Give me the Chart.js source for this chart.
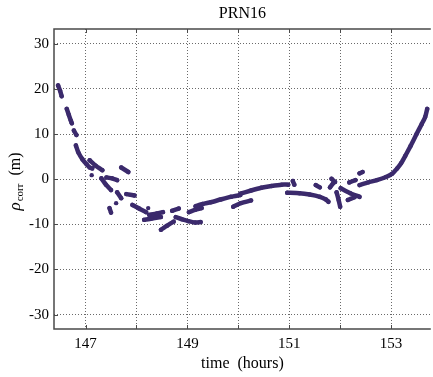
<!DOCTYPE html>
<html>
<head>
<meta charset="utf-8">
<script src="https://cdn.jsdelivr.net/npm/chart.js@4.4.0/dist/chart.umd.min.js"></script>
<style>
  html, body { margin: 0; padding: 0; background: #fff; }
  canvas { display: block; }
</style>
</head>
<body>
<canvas id="chart" width="433" height="377"></canvas>
<script>
// satellite passes, null marks a gap between tracked arcs
const timeHours = [
  146.46, 146.50, 146.53, null,
  146.63, 146.67, 146.71, 146.73, null,
  146.77, 146.82, null,
  146.81, 146.86, 146.94, 147.02, 147.08, 147.13, null,
  147.08, 147.20, 147.33, null,
  147.12, null,
  147.31, 147.40, 147.50, null,
  147.41, 147.52, 147.62, null,
  147.70, 147.84, null,
  147.62, 147.70, null,
  147.80, 147.96, null,
  147.60, null,
  147.47, 147.50, null,
  147.92, 148.05, 148.19, null,
  148.23, null,
  148.15, 148.30, 148.48, null,
  148.25, 148.40, 148.52, null,
  148.48, 148.60, 148.73, null,
  148.70, 148.83, null,
  148.77, 148.90, 149.02, 149.15, 149.26, null,
  149.03, 149.15, 149.28, null,
  149.16, 149.30, 149.46, 149.65, 149.85, 150.04, null,
  149.90, 150.05, 150.25, null,
  150.04, 150.25, 150.45, 150.65, 150.85, 150.98, null,
  150.96, 151.20, 151.40, 151.60, 151.72, 151.77, null,
  151.07, 151.10, null,
  151.52, 151.60, null,
  151.83, 151.90, null,
  151.80, 151.86, null,
  151.93, 151.97, 152.00, null,
  152.01, 152.20, 152.38, null,
  152.15, 152.28, null,
  152.38, 152.44, null,
  152.18, 152.30, null,
  152.38, 152.55, 152.72, 152.90, 153.02, 153.12, 153.20, 153.28, 153.38, 153.50, 153.60, 153.67, 153.71
];
const rhoCorr = [
  20.8, 19.6, 18.4, null,
  15.6, 14.3, 13.0, 12.4, null,
  10.8, 9.8, null,
  7.5, 5.9, 4.4, 3.3, 2.6, 2.4, null,
  4.2, 3.0, 2.0, null,
  0.9, null,
  0.2, -1.2, -2.4, null,
  0.4, 0.2, -0.2, null,
  2.6, 1.6, null,
  -2.9, -4.2, null,
  -3.3, -3.6, null,
  -5.3, null,
  -6.4, -7.4, null,
  -5.7, -6.5, -7.3, null,
  -6.4, null,
  -9.0, -8.7, -8.4, null,
  -7.9, -7.6, -7.3, null,
  -11.2, -10.3, -9.4, null,
  -7.0, -6.5, null,
  -8.4, -8.9, -9.3, -9.6, -9.5, null,
  -7.3, -6.8, -6.4, null,
  -6.0, -5.5, -5.1, -4.5, -3.9, -3.5, null,
  -6.1, -5.3, -4.7, null,
  -3.2, -2.5, -1.9, -1.5, -1.2, -1.2, null,
  -3.0, -3.1, -3.4, -3.9, -4.5, -5.0, null,
  -0.4, -1.2, null,
  -1.3, -1.8, null,
  0.1, -0.6, null,
  -1.8, -0.9, null,
  -2.9, -4.6, -6.1, null,
  -2.0, -3.1, -3.9, null,
  -4.6, -4.0, null,
  1.3, 1.6, null,
  -0.7, -0.2, null,
  -1.3, -0.7, -0.2, 0.5, 1.2, 2.4, 3.6, 5.2, 7.3, 10.0, 12.2, 13.8, 15.6
];
const xTicks = [147, 148, 149, 150, 151, 152, 153];
const xTickLabels = ['147', '', '149', '', '151', '', '153'];
const yTicks = [-30, -20, -10, 0, 10, 20, 30];

const serif = '"Liberation Serif", "DejaVu Serif", serif';
const markColor = '#3b2a6c';

const points = timeHours.map((t, i) => ({ x: t, y: rhoCorr[i] }));

const frame = {
  id: 'frame',
  afterDraw(chart) {
    const { ctx, chartArea: a, scales: { x, y } } = chart;
    ctx.save();
    ctx.strokeStyle = '#4a4a4a';
    ctx.lineWidth = 1.5;
    ctx.beginPath();
    ctx.moveTo(a.right, a.top);
    ctx.lineTo(a.left, a.top);
    ctx.lineTo(a.left, a.bottom);
    ctx.lineTo(a.right, a.bottom);
    ctx.stroke();

    ctx.lineWidth = 1;
    ctx.beginPath();
    xTicks.forEach(v => {
      const px = Math.round(x.getPixelForValue(v)) + 0.5;
      ctx.moveTo(px, a.bottom); ctx.lineTo(px, a.bottom - 4);
      ctx.moveTo(px, a.top); ctx.lineTo(px, a.top + 4);
    });
    yTicks.forEach(v => {
      const py = Math.round(y.getPixelForValue(v)) + 0.5;
      ctx.moveTo(a.left, py); ctx.lineTo(a.left + 4, py);
    });
    ctx.stroke();

    ctx.fillStyle = '#000';
    ctx.textAlign = 'center';
    ctx.textBaseline = 'middle';
    ctx.font = '16px ' + serif;
    ctx.fillText('PRN16', (a.left + a.right) / 2, 14);
    ctx.fillText('time  (hours)', (a.left + a.right) / 2, 364);

    // y title with subscript
    ctx.translate(20, 182);
    ctx.rotate(-Math.PI / 2);
    ctx.textBaseline = 'alphabetic';
    ctx.textAlign = 'left';
    const rhoFont = 'italic 17px ' + serif;
    const subFont = '11px ' + serif;
    const unitFont = '16px ' + serif;
    ctx.font = rhoFont; const w1 = ctx.measureText('ρ').width;
    ctx.font = subFont; const w2 = ctx.measureText('corr').width;
    ctx.font = unitFont; const w3 = ctx.measureText('  (m)').width;
    let cx = -(w1 + w2 + w3) / 2;
    ctx.font = rhoFont; ctx.fillText('ρ', cx, 0); cx += w1 + 1;
    ctx.font = subFont; ctx.fillText('corr', cx, 3); cx += w2;
    ctx.font = unitFont; ctx.fillText('  (m)', cx, 0);
    ctx.restore();
  }
};

new Chart(document.getElementById('chart'), {
  type: 'scatter',
  data: {
    datasets: [{
      data: points,
      showLine: true,
      spanGaps: false,
      borderColor: markColor,
      backgroundColor: markColor,
      borderWidth: 4.5,
      borderCapStyle: 'round',
      borderJoinStyle: 'round',
      tension: 0.2,
      pointRadius: 2.2,
      pointBorderWidth: 0,
      pointHoverRadius: 0
    }]
  },
  options: {
    responsive: false,
    animation: false,
    layout: { padding: { top: 29, left: 0, right: 0, bottom: 0 } },
    plugins: {
      legend: { display: false },
      tooltip: { enabled: false },
      title: { display: false }
    },
    scales: {
      x: {
        type: 'linear',
        min: 146.38,
        max: 153.78,
        afterBuildTicks: s => { s.ticks = xTicks.map(v => ({ value: v })); },
        afterFit: s => { s.height = 48; },
        ticks: {
          autoSkip: false,
          maxRotation: 0,
          padding: 6,
          color: '#000',
          font: { family: serif, size: 15 },
          callback: (v, i) => xTickLabels[i]
        },
        grid: { color: '#6a6a6a', lineWidth: 1, drawTicks: false },
        border: { display: false, dash: [1, 2] }
      },
      y: {
        min: -33.2,
        max: 33.3,
        afterBuildTicks: s => { s.ticks = yTicks.map(v => ({ value: v })); },
        afterFit: s => { s.width = 54; },
        ticks: {
          padding: 5,
          color: '#000',
          font: { family: serif, size: 15 },
          callback: v => String(v)
        },
        grid: { color: '#6a6a6a', lineWidth: 1, drawTicks: false },
        border: { display: false, dash: [1, 2] }
      }
    }
  },
  plugins: [frame]
});
</script>
</body>
</html>
